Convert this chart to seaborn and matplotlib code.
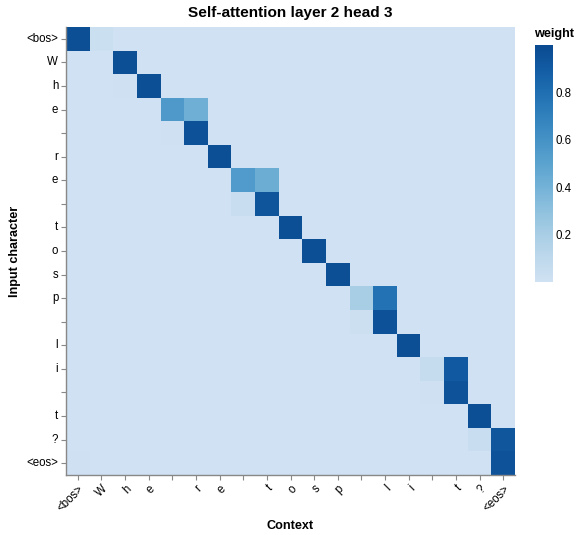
import numpy as np
import matplotlib
matplotlib.use("Agg")
import matplotlib.pyplot as plt
from matplotlib.colors import LinearSegmentedColormap
import seaborn as sns

# tokens (rows = input character, columns = context)
tokens = ["<bos>", "W", "h", "e", " ", "r", "e", " ", "t", "o", "s", "p",
          " ", "l", "i", " ", "t", "?", "<eos>"]

# strongest attended column per row and its weight
main_cols = [0, 2, 3, 4, 5, 6, 7, 8, 9, 10, 11, 13, 13, 14, 16, 16, 17, 18, 18]
main_weights = [0.97, 0.97, 0.97, 0.56, 0.96, 0.97, 0.55, 0.94, 0.97, 0.97,
                0.97, 0.78, 0.96, 0.97, 0.91, 0.95, 0.97, 0.93, 0.95]

# second attended column per row and its weight
side_cols = [1, 1, 2, 5, 4, 5, 8, 7, 8, 9, 10, 12, 12, 13, 15, 15, 16, 17, 0]
side_weights = [0.03, 0.0, 0.01, 0.42, 0.01, 0.0, 0.43, 0.04, 0.0, 0.0,
                0.0, 0.2, 0.02, 0.0, 0.06, 0.01, 0.0, 0.04, 0.01]

background_weight = 0.0

n = len(tokens)
weights = np.full((n, n), background_weight)
for r in range(n):
    weights[r, side_cols[r]] = side_weights[r]
    weights[r, main_cols[r]] = main_weights[r]

# vega "blues" scheme
blues = ["#cfe1f2", "#bed8ec", "#a8cee5", "#8fc1de", "#74b2d7", "#5ba3cf",
         "#4592c6", "#3181bd", "#206fb2", "#125ca4", "#0a4a90"]
cmap = LinearSegmentedColormap.from_list("vega_blues", blues)

sns.set_style("white")
plt.rcParams["font.family"] = ["Liberation Sans", "DejaVu Sans"]
plt.rcParams["text.color"] = "black"

W, H = 576, 535
fig = plt.figure(figsize=(W / 100, H / 100), dpi=100)
ax = fig.add_axes([66 / W, 1 - 475 / H, 449 / W, 448 / H])
cax = fig.add_axes([535 / W, 1 - 282 / H, 18 / W, 237 / H])

sns.heatmap(weights, cmap=cmap, vmin=0, vmax=1.0, ax=ax, cbar_ax=cax,
            xticklabels=tokens, yticklabels=tokens, linewidths=0)

grey = "#888888"
for side in ["left", "bottom"]:
    ax.spines[side].set_visible(True)
    ax.spines[side].set_color(grey)
    ax.spines[side].set_linewidth(1)
ax.tick_params(bottom=True, left=True, length=3.6, width=0.8, color=grey,
               labelsize=8.3, pad=2, labelcolor="black")
plt.setp(ax.get_xticklabels(), rotation=45, ha="right", rotation_mode="anchor")
plt.setp(ax.get_yticklabels(), rotation=0)
ax.set_xlabel("")
ax.set_ylabel("")

cbar = ax.collections[0].colorbar
cbar.outline.set_visible(False)
cbar.set_ticks([0.2, 0.4, 0.6, 0.8])
cax.tick_params(right=False, length=0, labelsize=8.3, pad=2, labelcolor="black")

fig.text(290 / W, 1 - 13 / H, "Self-attention layer 2 head 3", ha="center",
         va="center", fontsize=11.1, fontweight="bold", color="black")
fig.text(290 / W, 1 - 526 / H, "Context", ha="center", va="center",
         fontsize=9.1, fontweight="bold", color="black")
fig.text(15 / W, 1 - 251 / H, "Input character", ha="center", va="center",
         rotation=90, fontsize=9.1, fontweight="bold", color="black")
fig.text(534 / W, 1 - 34 / H, "weight", ha="left", va="center",
         fontsize=9.1, fontweight="bold", color="black")

fig.savefig("out.png", dpi=100)
